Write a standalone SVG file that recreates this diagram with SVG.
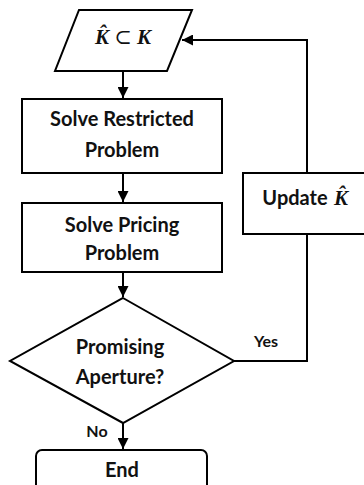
<svg xmlns="http://www.w3.org/2000/svg" width="364" height="485" viewBox="0 0 364 485">
  <style>
    .shape { fill: #ffffff; stroke: #000000; stroke-width: 2; }
    .edge { fill: none; stroke: #000000; stroke-width: 2; }
    .label { font-family: Lato, "Liberation Sans", sans-serif; font-weight: bold; font-size: 20px; fill: #111111; text-anchor: middle; }
    .small { font-size: 16px; }
    .math { font-family: "Liberation Serif", "DejaVu Serif", serif; font-weight: bold; font-style: italic; font-size: 21px; fill: #111111; }
    .rel { font-weight: normal; font-style: normal; }
  </style>
  <defs>
    <marker id="arrow" viewBox="0 0 10 10" refX="10" refY="5" markerWidth="6" markerHeight="5.5" orient="auto" markerUnits="strokeWidth">
      <path d="M0,0 L10,5 L0,10 z" fill="#000000"/>
    </marker>
  </defs>

  <rect width="364" height="485" fill="#ffffff"/>

  <!-- connectors -->
  <g id="connectors">
    <line class="edge" x1="123" y1="71" x2="123" y2="98" marker-end="url(#arrow)"/>
    <line class="edge" x1="123" y1="173" x2="123" y2="202" marker-end="url(#arrow)"/>
    <line class="edge" x1="123" y1="272" x2="123" y2="297" marker-end="url(#arrow)"/>
    <line class="edge" x1="123" y1="423" x2="123" y2="449" marker-end="url(#arrow)"/>
    <polyline class="edge" points="234,361 307,361 307,234"/>
    <polyline class="edge" points="307,173 307,40 182,40" marker-end="url(#arrow)"/>
    <text class="label small" x="266" y="347">Yes</text>
    <text class="label small" x="97" y="437">No</text>
  </g>

  <!-- input subset -->
  <g id="subset">
    <polygon class="shape" points="79,10 192,10 167,71 55,71"/>
    <text class="math" x="123" y="44" text-anchor="middle">K̂ <tspan class="rel">⊂</tspan> K</text>
  </g>

  <g id="restricted">
    <rect class="shape" x="22" y="99" width="200" height="74"/>
    <text class="label" x="122" y="126">Solve Restricted</text>
    <text class="label" x="122" y="157">Problem</text>
  </g>

  <g id="pricing">
    <rect class="shape" x="22" y="203" width="200" height="69"/>
    <text class="label" x="122" y="232">Solve Pricing</text>
    <text class="label" x="122" y="260">Problem</text>
  </g>

  <g id="update">
    <rect class="shape" x="243" y="173" width="124" height="61"/>
    <text class="label" x="295" y="205">Update</text>
    <text class="math" x="334" y="205">K̂</text>
  </g>

  <g id="decision">
    <polygon class="shape" points="123,298 234,361 123,423 10,361"/>
    <text class="label" x="120" y="354">Promising</text>
    <text class="label" x="120" y="384">Aperture?</text>
  </g>

  <g id="end">
    <rect class="shape" x="36" y="450" width="171" height="45" rx="6" ry="6"/>
    <text class="label" x="122" y="477">End</text>
  </g>
</svg>
